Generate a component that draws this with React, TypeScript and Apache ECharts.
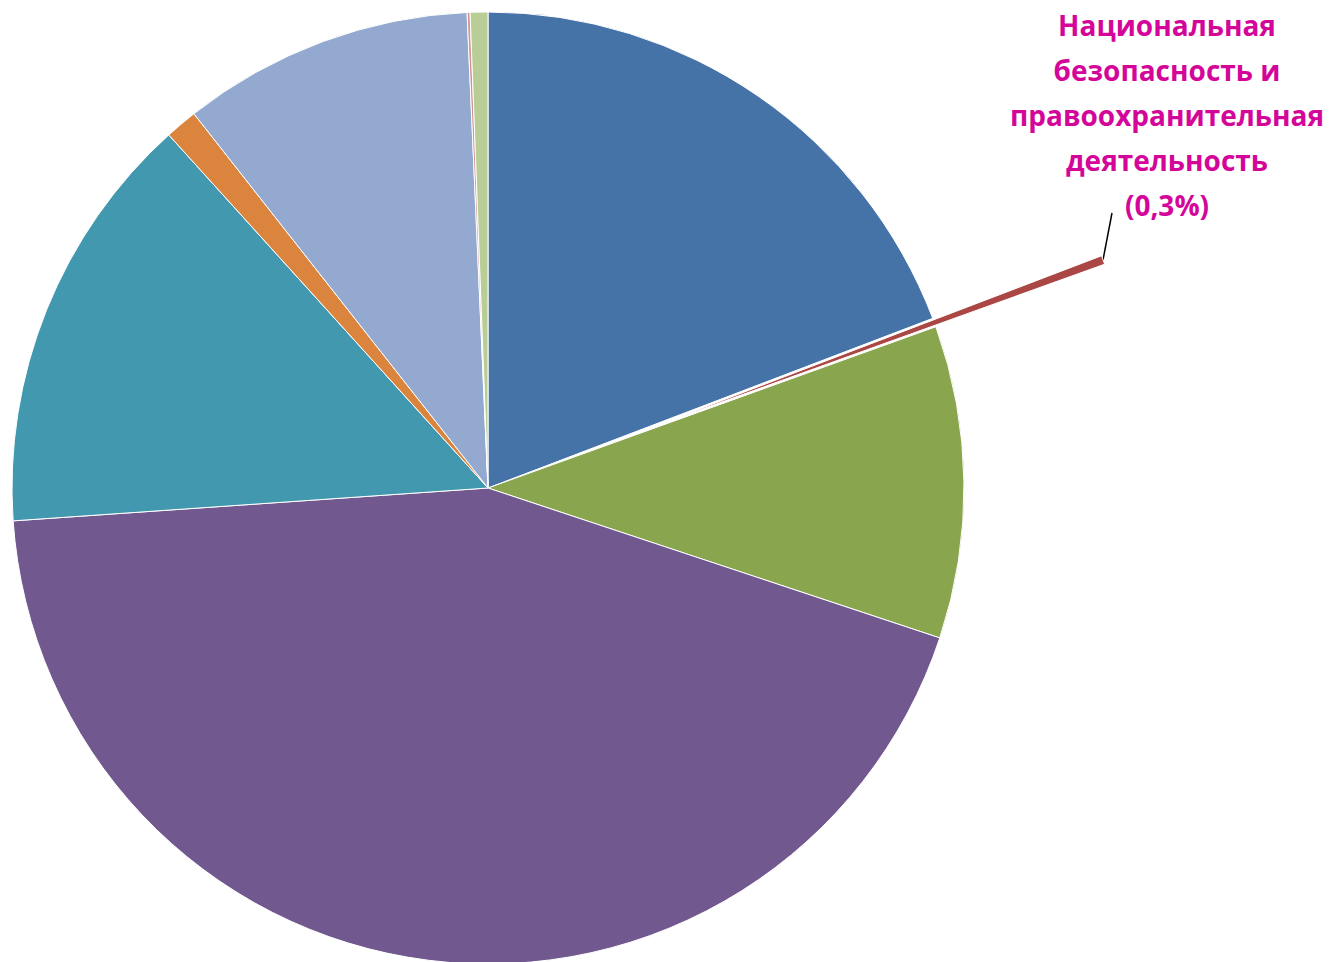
import React, { useEffect, useRef } from "react";
import * as echarts from "echarts";

const categories = [
  "Общегосударственные вопросы",
  "Национальная безопасность и правоохранительная деятельность",
  "Национальная экономика",
  "Социальная сфера",
  "Жилищно-коммунальное хозяйство",
  "Охрана окружающей среды",
  "Межбюджетные трансферты",
  "Обслуживание долга",
  "Прочие",
];
const values = [19.2, 0.3, 10.6, 43.8, 14.4, 1.1, 9.9, 0.1, 0.6];
const colors = [
  "#4572A7",
  "#AA4643",
  "#89A54E",
  "#71588F",
  "#4198AF",
  "#DB843D",
  "#93A9CF",
  "#D19392",
  "#B9CD96",
];
const labelText = "Национальная\nбезопасность и\nправоохранительная\nдеятельность\n(0,3%)";

export default function App() {
  const ref = useRef<HTMLDivElement>(null);
  useEffect(() => {
    if (!ref.current) return;
    const chart = echarts.init(ref.current, undefined, { renderer: "svg" });
    chart.setOption({
      animation: false,
      graphic: [
        {
          type: "text",
          x: 1167,
          y: 115,
          style: {
            text: labelText,
            fill: "#D4069A",
            font: "bold 28px 'Open Sans'",
            fontFamily: "Open Sans",
            fontWeight: "bold",
            fontSize: 28,
            lineHeight: 45,
            align: "center",
            verticalAlign: "middle",
          },
          silent: true,
        },
        {
          type: "line",
          shape: { x1: 1103, y1: 260, x2: 1112, y2: 213 },
          style: { stroke: "#000000", lineWidth: 1.5 },
          silent: true,
        },
      ],
      series: [
        {
          type: "pie",
          center: [488, 488],
          radius: 476,
          startAngle: 90,
          clockwise: true,
          selectedMode: "single",
          selectedOffset: 180,
          silent: true,
          emphasis: { disabled: true },
          itemStyle: { borderColor: "#ffffff", borderWidth: 1 },
          label: { show: false },
          labelLine: { show: false },
          data: categories.map((name, i) => ({
            name,
            value: values[i],
            selected: i === 1,
            itemStyle: { color: colors[i] },
          })),
        },
      ],
    });
    return () => chart.dispose();
  }, []);
  return (
    <div
      ref={ref}
      style={{ position: "fixed", left: 0, top: 0, width: 1330, height: 962, background: "#fff" }}
    />
  );
}
